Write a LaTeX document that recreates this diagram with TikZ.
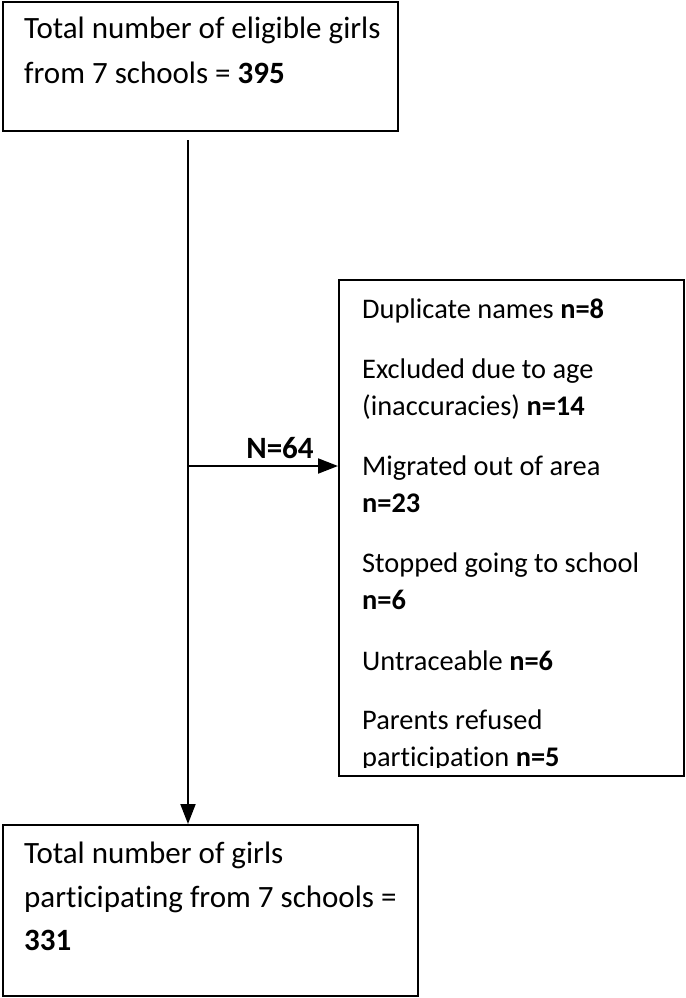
\documentclass[tikz,border=0pt]{standalone}
\usepackage{fontspec}
\setmainfont[Ligatures=NoCommon]{Carlito}
\usetikzlibrary{arrows.meta}

\begin{document}
\begin{tikzpicture}[x=1pt, y=-1pt,
    box/.style={draw, line width=2pt, inner sep=0pt},
    txt/.style={anchor=base west, inner sep=0pt, font=\fontsize{31}{36}\selectfont},
    smalltxt/.style={txt, font=\fontsize{28.4}{33}\selectfont},
    flow/.style={line width=2pt, -{Triangle[length=20pt, width=15pt]}}]
    \useasboundingbox (0,0) rectangle (685,998);

    \node[box, minimum width=395pt, minimum height=129pt] (T) at (200.5,66.5) {};
    \node[txt] (T1) at (24,38) {Total number of eligible girls};
    \node[txt] (T2) at (24,83) {from 7 schools = \textbf{395}};

    \node[box, minimum width=345pt, minimum height=496pt] (E) at (511.5,528) {};
    \begin{scope}
        \clip (340,281) rectangle (683,767);
        \node[smalltxt] (E1) at (362,318) {Duplicate names \textbf{n=8}};
        \node[smalltxt] (E2) at (362,378) {Excluded due to age};
        \node[smalltxt] (E3) at (362,415) {(inaccuracies) \textbf{n=14}};
        \node[smalltxt] (E4) at (362,475) {Migrated out of area};
        \node[smalltxt] (E5) at (362,512) {\textbf{n=23}};
        \node[smalltxt] (E6) at (362,572) {Stopped going to school};
        \node[smalltxt] (E7) at (362,609) {\textbf{n=6}};
        \node[smalltxt] (E8) at (362,670) {Untraceable \textbf{n=6}};
        \node[smalltxt] (E9) at (362,729) {Parents refused};
        \node[smalltxt] (E10) at (362,766) {participation \textbf{n=5}};
    \end{scope}

    \node[box, minimum width=415pt, minimum height=171pt] (B) at (210.5,910.5) {};
    \node[txt] (B1) at (24,863) {Total number of girls};
    \node[txt] (B2) at (24,907) {participating from 7 schools =};
    \node[txt] (B3) at (24,950) {\textbf{331}};

    \coordinate (S) at (188,140);
    \coordinate (J) at (188,466);
    \draw[flow] (S) -- (S |- B.north);
    \draw[flow] (J) -- (J -| E.west);
    \node[txt, anchor=base] (N) at (280,458) {\textbf{N=64}};
\end{tikzpicture}
\end{document}
